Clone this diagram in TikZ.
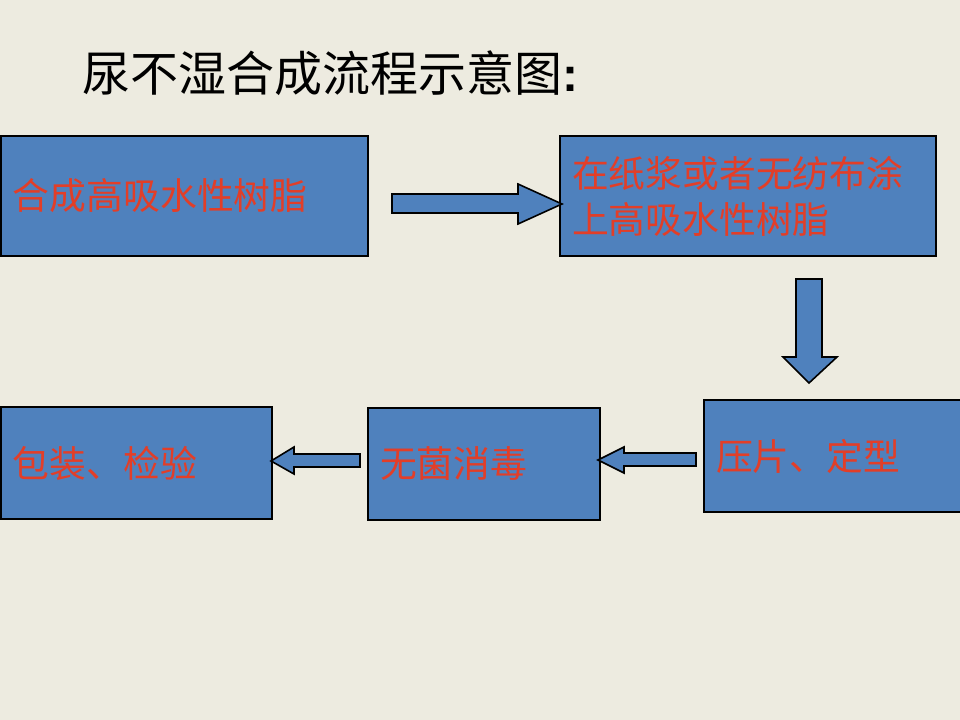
\documentclass[tikz,border=0pt]{standalone}
\usepackage{fontspec}
\setmainfont{Liberation Serif}
\newfontfamily\cjk{Noto Sans CJK SC}
\newfontfamily\colonfont{Liberation Sans}
\definecolor{bgcol}{RGB}{237,235,224}
\definecolor{boxblue}{RGB}{79,129,189}
\definecolor{textred}{RGB}{226,62,40}
\tikzset{
  stepbox/.style={draw=black,line width=1.6bp,fill=boxblue,rectangle,
    inner xsep=12bp,inner ysep=0bp,align=left,text=textred,
    font=\cjk\fontsize{36.8bp}{46bp}\selectfont},
  blockarrow/.style={draw=black,line width=1.6bp,fill=boxblue,line join=miter}
}
\begin{document}
\begin{tikzpicture}[x=1bp,y=-1bp]
  \useasboundingbox (0,0) rectangle (960,720);
  \fill [bgcol] (0,0) rectangle (960,720);
  \node (Title) at (82,73) [anchor=west,inner sep=0pt,font=\cjk\fontsize{48bp}{56bp}\selectfont] {尿不湿合成流程示意图{\colonfont\bfseries :}};
  \node (Synth) at (184.5,196) [stepbox,minimum width=367bp,minimum height=120bp,text width=343bp] {合成高吸水性树脂};
  \node (Coat) at (748,196) [stepbox,minimum width=376bp,minimum height=120bp,text width=352bp] {在纸浆或者无纺布涂\\上高吸水性树脂};
  \node (Press) at (834,456) [stepbox,minimum width=260bp,minimum height=112bp,text width=236bp] {压片、定型};
  \node (Steril) at (484,464) [stepbox,minimum width=232bp,minimum height=112bp,text width=208bp] {无菌消毒};
  \node (Pack) at (136.5,463) [stepbox,minimum width=271bp,minimum height=112bp,text width=247bp] {包装、检验};
  % block arrows between the steps
  \draw [blockarrow] (392,194) -- (518,194) -- (518,184) -- (562,204) -- (518,224) -- (518,213) -- (392,213) -- cycle;
  \draw [blockarrow] (796,279) -- (822,279) -- (822,357) -- (837,357) -- (809,383) -- (783,357) -- (796,357) -- cycle;
  \draw [blockarrow] (696,453) -- (624,453) -- (624,447) -- (598,460) -- (624,473) -- (624,466) -- (696,466) -- cycle;
  \draw [blockarrow] (360,454) -- (294,454) -- (294,447) -- (271,461) -- (294,474) -- (294,467) -- (360,467) -- cycle;
\end{tikzpicture}
\end{document}
